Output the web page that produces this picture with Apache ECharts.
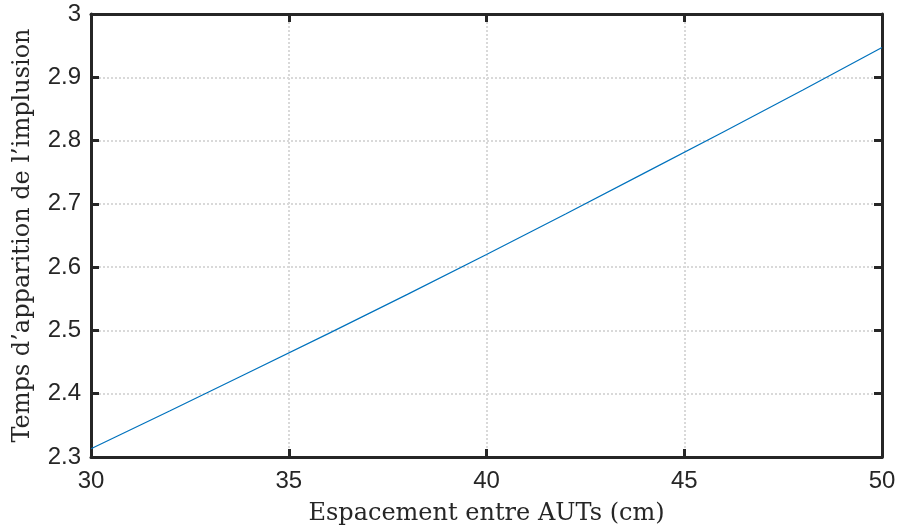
<!DOCTYPE html>
<html>
<head>
<meta charset="utf-8">
<script src="https://cdn.jsdelivr.net/npm/echarts@6/dist/echarts.min.js"></script>
<style>
  html, body {margin: 0; padding: 0; background: #fff;}
  #main {width: 899px; height: 529px;}
</style>
</head>
<body>
<div id="main"></div>
<script>
// espacement entre AUTs (cm) et temps d'apparition
const espacement = [30, 32, 34, 36, 38, 40, 42, 44, 46, 48, 50];
const temps = [2.313, 2.373, 2.434, 2.495, 2.557, 2.620, 2.684, 2.749, 2.814, 2.880, 2.947];

const xTicks = [30, 35, 40, 45, 50];
const yTicks = [2.3, 2.4, 2.5, 2.6, 2.7, 2.8, 2.9, 3];

const axisColor = '#262626';
const tickFont = {color: axisColor, fontSize: 24, fontFamily: 'Liberation Sans'};
const titleFont = {color: axisColor, fontSize: 24, fontFamily: 'DejaVu Serif'};

const chart = echarts.init(document.getElementById('main'));

const baseLine = {show: true, onZero: false, lineStyle: {color: axisColor, width: 3}};
const baseTick = {show: true, inside: true, length: 8, lineStyle: {color: axisColor, width: 3}};
const gridDots = {show: true, lineStyle: {color: '#d9d9d9', width: 2, type: [2, 2]}};

chart.setOption({
    animation: false,
    grid: {left: 91, right: 17, top: 14, bottom: 72, containLabel: false, outerBoundsMode: 'none'},
    xAxis: [
        {
            type: 'value', position: 'bottom', min: 30, max: 50, interval: 5,
            axisLine: baseLine, axisTick: baseTick,
            axisLabel: Object.assign({margin: 12}, tickFont),
            splitLine: gridDots,
            name: 'Espacement entre AUTs (cm)', nameLocation: 'middle', nameGap: 45,
            nameTextStyle: titleFont,
        },
        {
            type: 'value', position: 'top', min: 30, max: 50, interval: 5,
            axisLine: baseLine, axisTick: baseTick,
            axisLabel: {show: false}, splitLine: {show: false},
        },
    ],
    yAxis: [
        {
            type: 'value', position: 'left', min: 2.3, max: 3, interval: 0.1,
            axisLine: baseLine, axisTick: baseTick,
            axisLabel: Object.assign({margin: 10, formatter: v => String(Math.round(v * 10) / 10)}, tickFont),
            splitLine: gridDots,
            name: "Temps d\u2019apparition de l\u2019implusion", nameLocation: 'middle', nameGap: 56,
            nameTextStyle: titleFont,
        },
        {
            type: 'value', position: 'right', min: 2.3, max: 3, interval: 0.1,
            axisLine: baseLine, axisTick: baseTick,
            axisLabel: {show: false}, splitLine: {show: false},
        },
    ],
    series: [{
        type: 'line',
        data: espacement.map((x, i) => [x, temps[i]]),
        showSymbol: false,
        lineStyle: {color: '#0072BD', width: 1.2},
        xAxisIndex: 0, yAxisIndex: 0,
    }],
});
</script>
</body>
</html>
